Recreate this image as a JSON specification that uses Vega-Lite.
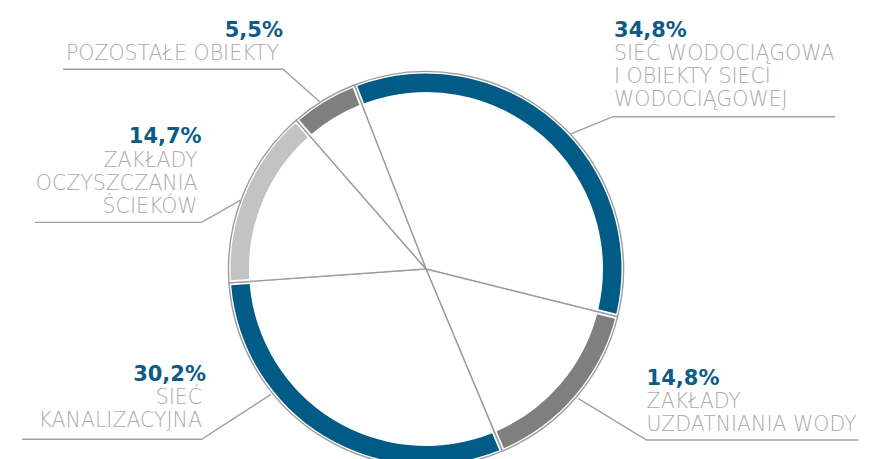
{
  "$schema": "https://vega.github.io/schema/vega-lite/v6.json",
  "width": 852,
  "height": 380,
  "autosize": {"type": "none"},
  "padding": {"left": 0, "top": 79, "right": 19, "bottom": 0},
  "background": "white",
  "config": {"view": {"stroke": null}},
  "datasets": {
    "shares": [
      {"name": "Sieć wodociągowa i obiekty sieci wodociągowej", "value": 34.8, "order": 1},
      {"name": "Zakłady uzdatniania wody", "value": 14.8, "order": 2},
      {"name": "Sieć kanalizacyjna", "value": 30.2, "order": 3},
      {"name": "Zakłady oczyszczania ścieków", "value": 14.7, "order": 4},
      {"name": "Pozostałe obiekty", "value": 5.5, "order": 5}
    ],
    "labels": [
      {"name": "Pozostałe obiekty", "pct": "5,5%", "lines": ["POZOSTAŁE OBIEKTY"], "side": "left", "u": -0.724, "v": 1.177},
      {"name": "Sieć wodociągowa i obiekty sieci wodociągowej", "pct": "34,8%", "lines": ["SIEĆ WODOCIĄGOWA", "I OBIEKTY SIECI", "WODOCIĄGOWEJ"], "side": "right", "u": 0.952, "v": 1.176},
      {"name": "Zakłady uzdatniania wody", "pct": "14,8%", "lines": ["ZAKŁADY", "UZDATNIANIA WODY"], "side": "right", "u": 1.117, "v": -0.587},
      {"name": "Sieć kanalizacyjna", "pct": "30,2%", "lines": ["SIEĆ", "KANALIZACYJNA"], "side": "left", "u": -1.114, "v": -0.566},
      {"name": "Zakłady oczyszczania ścieków", "pct": "14,7%", "lines": ["ZAKŁADY", "OCZYSZCZANIA", "ŚCIEKÓW"], "side": "left", "u": -1.136, "v": 0.636}
    ],
    "leaders": [
      {"name": "Pozostałe obiekty", "seq": 1, "u": -1.838, "v": 1.011},
      {"name": "Pozostałe obiekty", "seq": 2, "u": -0.724, "v": 1.011},
      {"name": "Pozostałe obiekty", "seq": 3, "u": -0.537, "v": 0.846},
      {"name": "Sieć wodociągowa i obiekty sieci wodociągowej", "seq": 1, "u": 2.071, "v": 0.771},
      {"name": "Sieć wodociągowa i obiekty sieci wodociągowej", "seq": 2, "u": 0.947, "v": 0.771},
      {"name": "Sieć wodociągowa i obiekty sieci wodociągowej", "seq": 3, "u": 0.731, "v": 0.683},
      {"name": "Zakłady uzdatniania wody", "seq": 1, "u": 2.189, "v": -0.866},
      {"name": "Zakłady uzdatniania wody", "seq": 2, "u": 1.117, "v": -0.866},
      {"name": "Zakłady uzdatniania wody", "seq": 3, "u": 0.772, "v": -0.656},
      {"name": "Sieć kanalizacyjna", "seq": 1, "u": -2.046, "v": -0.862},
      {"name": "Sieć kanalizacyjna", "seq": 2, "u": -1.136, "v": -0.862},
      {"name": "Sieć kanalizacyjna", "seq": 3, "u": -0.785, "v": -0.635},
      {"name": "Zakłady oczyszczania ścieków", "seq": 1, "u": -1.98, "v": 0.236},
      {"name": "Zakłady oczyszczania ścieków", "seq": 2, "u": -1.136, "v": 0.236},
      {"name": "Zakłady oczyszczania ścieków", "seq": 3, "u": -0.939, "v": 0.349}
    ]
  },
  "layer": [
    {
      "data": {"name": "shares"},
      "mark": {"type": "arc", "innerRadius": 0, "outerRadius": 197.5, "fill": "white", "stroke": "#9d9d9d", "strokeWidth": 1.4},
      "encoding": {
        "theta": {"field": "value", "type": "quantitative", "stack": true, "scale": {"range": [-0.3718, 5.9114]}},
        "order": {"field": "order", "type": "quantitative"},
        "detail": {"field": "name", "type": "nominal"}
      }
    },
    {
      "data": {"name": "shares"},
      "mark": {"type": "arc", "innerRadius": 177, "outerRadius": 195.5, "padAngle": 0.019},
      "encoding": {
        "theta": {"field": "value", "type": "quantitative", "stack": true, "scale": {"range": [-0.3718, 5.9114]}},
        "order": {"field": "order", "type": "quantitative"},
        "color": {
          "field": "name", "type": "nominal", "legend": null,
          "scale": {
            "domain": ["Sieć wodociągowa i obiekty sieci wodociągowej", "Zakłady uzdatniania wody", "Sieć kanalizacyjna", "Zakłady oczyszczania ścieków", "Pozostałe obiekty"],
            "range": ["#005b87", "#7e7f7e", "#005b87", "#c2c3c2", "#7e7f7e"]
          }
        }
      }
    },
    {
      "data": {"name": "leaders"},
      "mark": {"type": "line", "stroke": "#a0a0a0", "strokeWidth": 1.4},
      "encoding": {
        "x": {"field": "u", "type": "quantitative", "axis": null, "scale": {"domain": [-2.157, 2.157], "nice": false, "zero": false}},
        "y": {"field": "v", "type": "quantitative", "axis": null, "scale": {"domain": [-0.962, 0.962], "nice": false, "zero": false}},
        "detail": {"field": "name", "type": "nominal"},
        "order": {"field": "seq", "type": "quantitative"}
      }
    },
    {
      "data": {"name": "labels"},
      "transform": [{"filter": "datum.side == 'left'"}],
      "mark": {"type": "text", "align": "right", "baseline": "alphabetic", "font": "DejaVu Sans", "fontSize": 21, "fontWeight": "bold", "color": "#0e5b86"},
      "encoding": {
        "x": {"field": "u", "type": "quantitative", "axis": null, "scale": {"domain": [-2.157, 2.157], "nice": false, "zero": false}},
        "y": {"field": "v", "type": "quantitative", "axis": null, "scale": {"domain": [-0.962, 0.962], "nice": false, "zero": false}},
        "text": {"field": "pct", "type": "nominal"}
      }
    },
    {
      "data": {"name": "labels"},
      "transform": [{"filter": "datum.side == 'right'"}],
      "mark": {"type": "text", "align": "left", "baseline": "alphabetic", "font": "DejaVu Sans", "fontSize": 21, "fontWeight": "bold", "color": "#0e5b86"},
      "encoding": {
        "x": {"field": "u", "type": "quantitative", "axis": null, "scale": {"domain": [-2.157, 2.157], "nice": false, "zero": false}},
        "y": {"field": "v", "type": "quantitative", "axis": null, "scale": {"domain": [-0.962, 0.962], "nice": false, "zero": false}},
        "text": {"field": "pct", "type": "nominal"}
      }
    },
    {
      "data": {"name": "labels"},
      "transform": [{"filter": "datum.side == 'left'"}],
      "mark": {"type": "text", "align": "right", "baseline": "alphabetic", "dy": 23.5, "dx": -4, "lineHeight": 23, "font": "DejaVu Sans", "fontSize": 20.5, "fontWeight": 300, "color": "#aaaaaa"},
      "encoding": {
        "x": {"field": "u", "type": "quantitative", "axis": null, "scale": {"domain": [-2.157, 2.157], "nice": false, "zero": false}},
        "y": {"field": "v", "type": "quantitative", "axis": null, "scale": {"domain": [-0.962, 0.962], "nice": false, "zero": false}},
        "text": {"field": "lines", "type": "nominal"}
      }
    },
    {
      "data": {"name": "labels"},
      "transform": [{"filter": "datum.side == 'right'"}],
      "mark": {"type": "text", "align": "left", "baseline": "alphabetic", "dy": 23.5, "lineHeight": 23, "font": "DejaVu Sans", "fontSize": 20.5, "fontWeight": 300, "color": "#aaaaaa"},
      "encoding": {
        "x": {"field": "u", "type": "quantitative", "axis": null, "scale": {"domain": [-2.157, 2.157], "nice": false, "zero": false}},
        "y": {"field": "v", "type": "quantitative", "axis": null, "scale": {"domain": [-0.962, 0.962], "nice": false, "zero": false}},
        "text": {"field": "lines", "type": "nominal"}
      }
    }
  ]
}
